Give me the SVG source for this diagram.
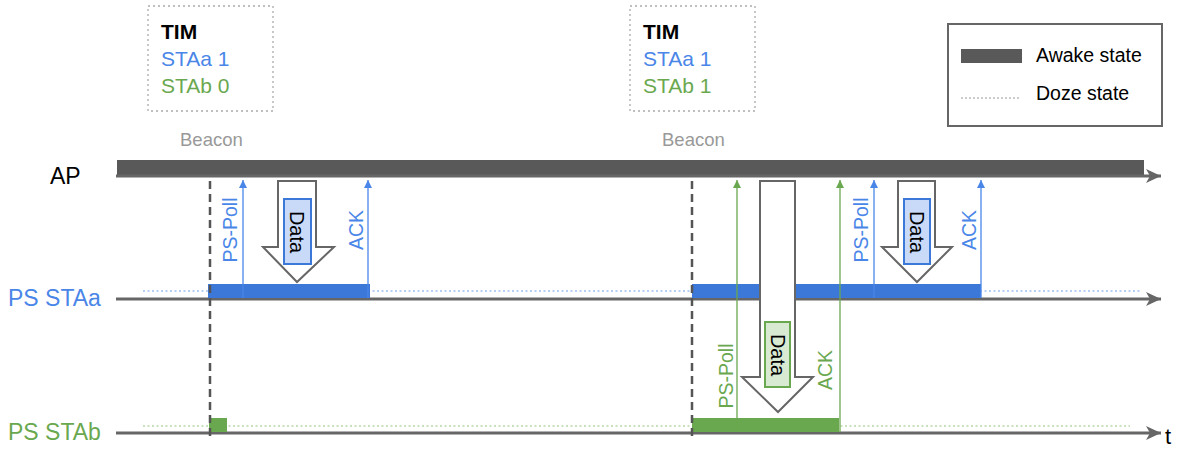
<svg xmlns="http://www.w3.org/2000/svg" width="1182" height="449" viewBox="0 0 1182 449">
<style>
text{font-family:"Liberation Sans",Arial,sans-serif}
.blk{fill:#000}
.bl{fill:#4a86e8}
.gr{fill:#6aa84f}
.gy{fill:#999}
.axis{stroke:#666;stroke-width:3;fill:none}
.tim{fill:none;stroke:#aaa;stroke-width:1.3;stroke-dasharray:2,3}
.dash{stroke:#555;stroke-width:2.5;stroke-dasharray:8,5;fill:none}
.bmsg{stroke:#4a86e8;stroke-width:1.3;fill:none}
.gmsg{stroke:#6aa84f;stroke-width:1.3;fill:none}
.big{fill:#fff;stroke:#666;stroke-width:2}
.lbl{font-size:19.5px}
</style>
<defs>
<marker id="ax" markerUnits="userSpaceOnUse" markerWidth="18" markerHeight="16" refX="15" refY="8" orient="auto">
<path d="M0,1 L15,8 L0,15 L4,8 Z" fill="#666"/>
</marker>
<marker id="ab" markerUnits="userSpaceOnUse" markerWidth="10" markerHeight="10" refX="8" refY="4" orient="auto">
<path d="M0,0 L8,4 L0,8 Z" fill="#4a86e8"/>
</marker>
<marker id="ag" markerUnits="userSpaceOnUse" markerWidth="10" markerHeight="10" refX="8" refY="4" orient="auto">
<path d="M0,0 L8,4 L0,8 Z" fill="#6aa84f"/>
</marker>
</defs>

<g id="beacon1">
<rect class="tim" x="148" y="6" width="125" height="105"/>
<text x="161" y="39" font-size="21" font-weight="bold" class="blk">TIM</text>
<text x="161" y="66" font-size="21" class="bl">STAa 1</text>
<text x="161" y="93" font-size="21" class="gr">STAb 0</text>
<text x="180" y="146" font-size="18.5" class="gy">Beacon</text>
</g>
<g id="beacon2">
<rect class="tim" x="630" y="6" width="125" height="105"/>
<text x="643" y="39" font-size="21" font-weight="bold" class="blk">TIM</text>
<text x="643" y="66" font-size="21" class="bl">STAa 1</text>
<text x="643" y="93" font-size="21" class="gr">STAb 1</text>
<text x="662" y="146" font-size="18.5" class="gy">Beacon</text>
</g>

<g id="legend">
<rect x="948" y="24" width="214" height="102" fill="#fff" stroke="#666" stroke-width="2"/>
<rect x="961" y="49" width="61" height="14" fill="#595959"/>
<text x="1036" y="62" font-size="19.5" class="blk">Awake state</text>
<line x1="961" y1="98" x2="1020" y2="98" stroke="#999" stroke-width="1" stroke-dasharray="2,2"/>
<text x="1036" y="100" font-size="19.5" class="blk">Doze state</text>
</g>

<g id="labels">
<text x="50" y="184" font-size="23" class="blk">AP</text>
<text x="8" y="306" font-size="23" class="bl">PS STAa</text>
<text x="8" y="440" font-size="23" class="gr">PS STAb</text>
<text x="1165" y="444" font-size="22" class="blk">t</text>
</g>

<g id="timelines">
<line x1="143" y1="291" x2="1140" y2="291" stroke="#6d9eeb" stroke-width="1" stroke-dasharray="2,2.5"/>
<line x1="143" y1="426" x2="1130" y2="426" stroke="#93c47d" stroke-width="1" stroke-dasharray="2,2.5"/>
<rect id="ap-bar" x="117" y="160" width="1027" height="15" fill="#595959"/>
<line class="axis" x1="116" y1="176" x2="1161" y2="176" marker-end="url(#ax)"/>
<line class="axis" x1="116" y1="299" x2="1161" y2="299" marker-end="url(#ax)"/>
<line class="axis" x1="116" y1="433" x2="1161" y2="433" marker-end="url(#ax)"/>
</g>

<g id="states">
<rect x="208" y="284" width="162" height="14" fill="#3c78d8"/>
<rect x="692" y="284" width="289" height="14" fill="#3c78d8"/>
<rect x="209" y="418" width="18" height="14" fill="#6aa84f"/>
<rect x="692" y="418" width="147" height="14" fill="#6aa84f"/>
</g>

<g id="connectors">
<line class="dash" x1="210" y1="181" x2="210" y2="440"/>
<line class="dash" x1="692" y1="181" x2="692" y2="440"/>
<line class="bmsg" x1="243" y1="298" x2="243" y2="180" marker-end="url(#ab)"/>
<line class="bmsg" x1="368" y1="298" x2="368" y2="180" marker-end="url(#ab)"/>
<line class="bmsg" x1="874" y1="298" x2="874" y2="180" marker-end="url(#ab)"/>
<line class="bmsg" x1="981" y1="298" x2="981" y2="180" marker-end="url(#ab)"/>
<line class="gmsg" x1="737" y1="432" x2="737" y2="180" marker-end="url(#ag)"/>
<line class="gmsg" x1="840" y1="432" x2="840" y2="180" marker-end="url(#ag)"/>
</g>

<g id="msg-labels" class="lbl">
<text transform="translate(237,230) rotate(-90)" text-anchor="middle" class="bl">PS-Poll</text>
<text transform="translate(363,230) rotate(-90)" text-anchor="middle" class="bl">ACK</text>
<text transform="translate(868,230) rotate(-90)" text-anchor="middle" class="bl">PS-Poll</text>
<text transform="translate(976,230) rotate(-90)" text-anchor="middle" class="bl">ACK</text>
<text transform="translate(733,376) rotate(-90)" text-anchor="middle" class="gr">PS-Poll</text>
<text transform="translate(832,370) rotate(-90)" text-anchor="middle" class="gr">ACK</text>
</g>

<g id="data1">
<path class="big" d="M278,181 H316 V247 H334 L297,282 L263,247 H278 Z"/>
<rect x="284" y="199" width="27" height="65" fill="#c9daf8" stroke="#3c78d8" stroke-width="2"/>
<text transform="translate(290,232) rotate(90)" text-anchor="middle" font-size="20" class="blk">Data</text>
</g>
<g id="data2">
<path class="big" d="M760,181 H795 V377 H813 L778,412 L742,377 H760 Z"/>
<rect x="765" y="322" width="25" height="65" fill="#d9ead3" stroke="#6aa84f" stroke-width="2"/>
<text transform="translate(771,355) rotate(90)" text-anchor="middle" font-size="20" class="blk">Data</text>
</g>
<g id="data3">
<path class="big" d="M898,181 H935 V247 H952 L917,282 L882,247 H898 Z"/>
<rect x="904" y="199" width="26" height="65" fill="#c9daf8" stroke="#3c78d8" stroke-width="2"/>
<text transform="translate(910,232) rotate(90)" text-anchor="middle" font-size="20" class="blk">Data</text>
</g>
</svg>
